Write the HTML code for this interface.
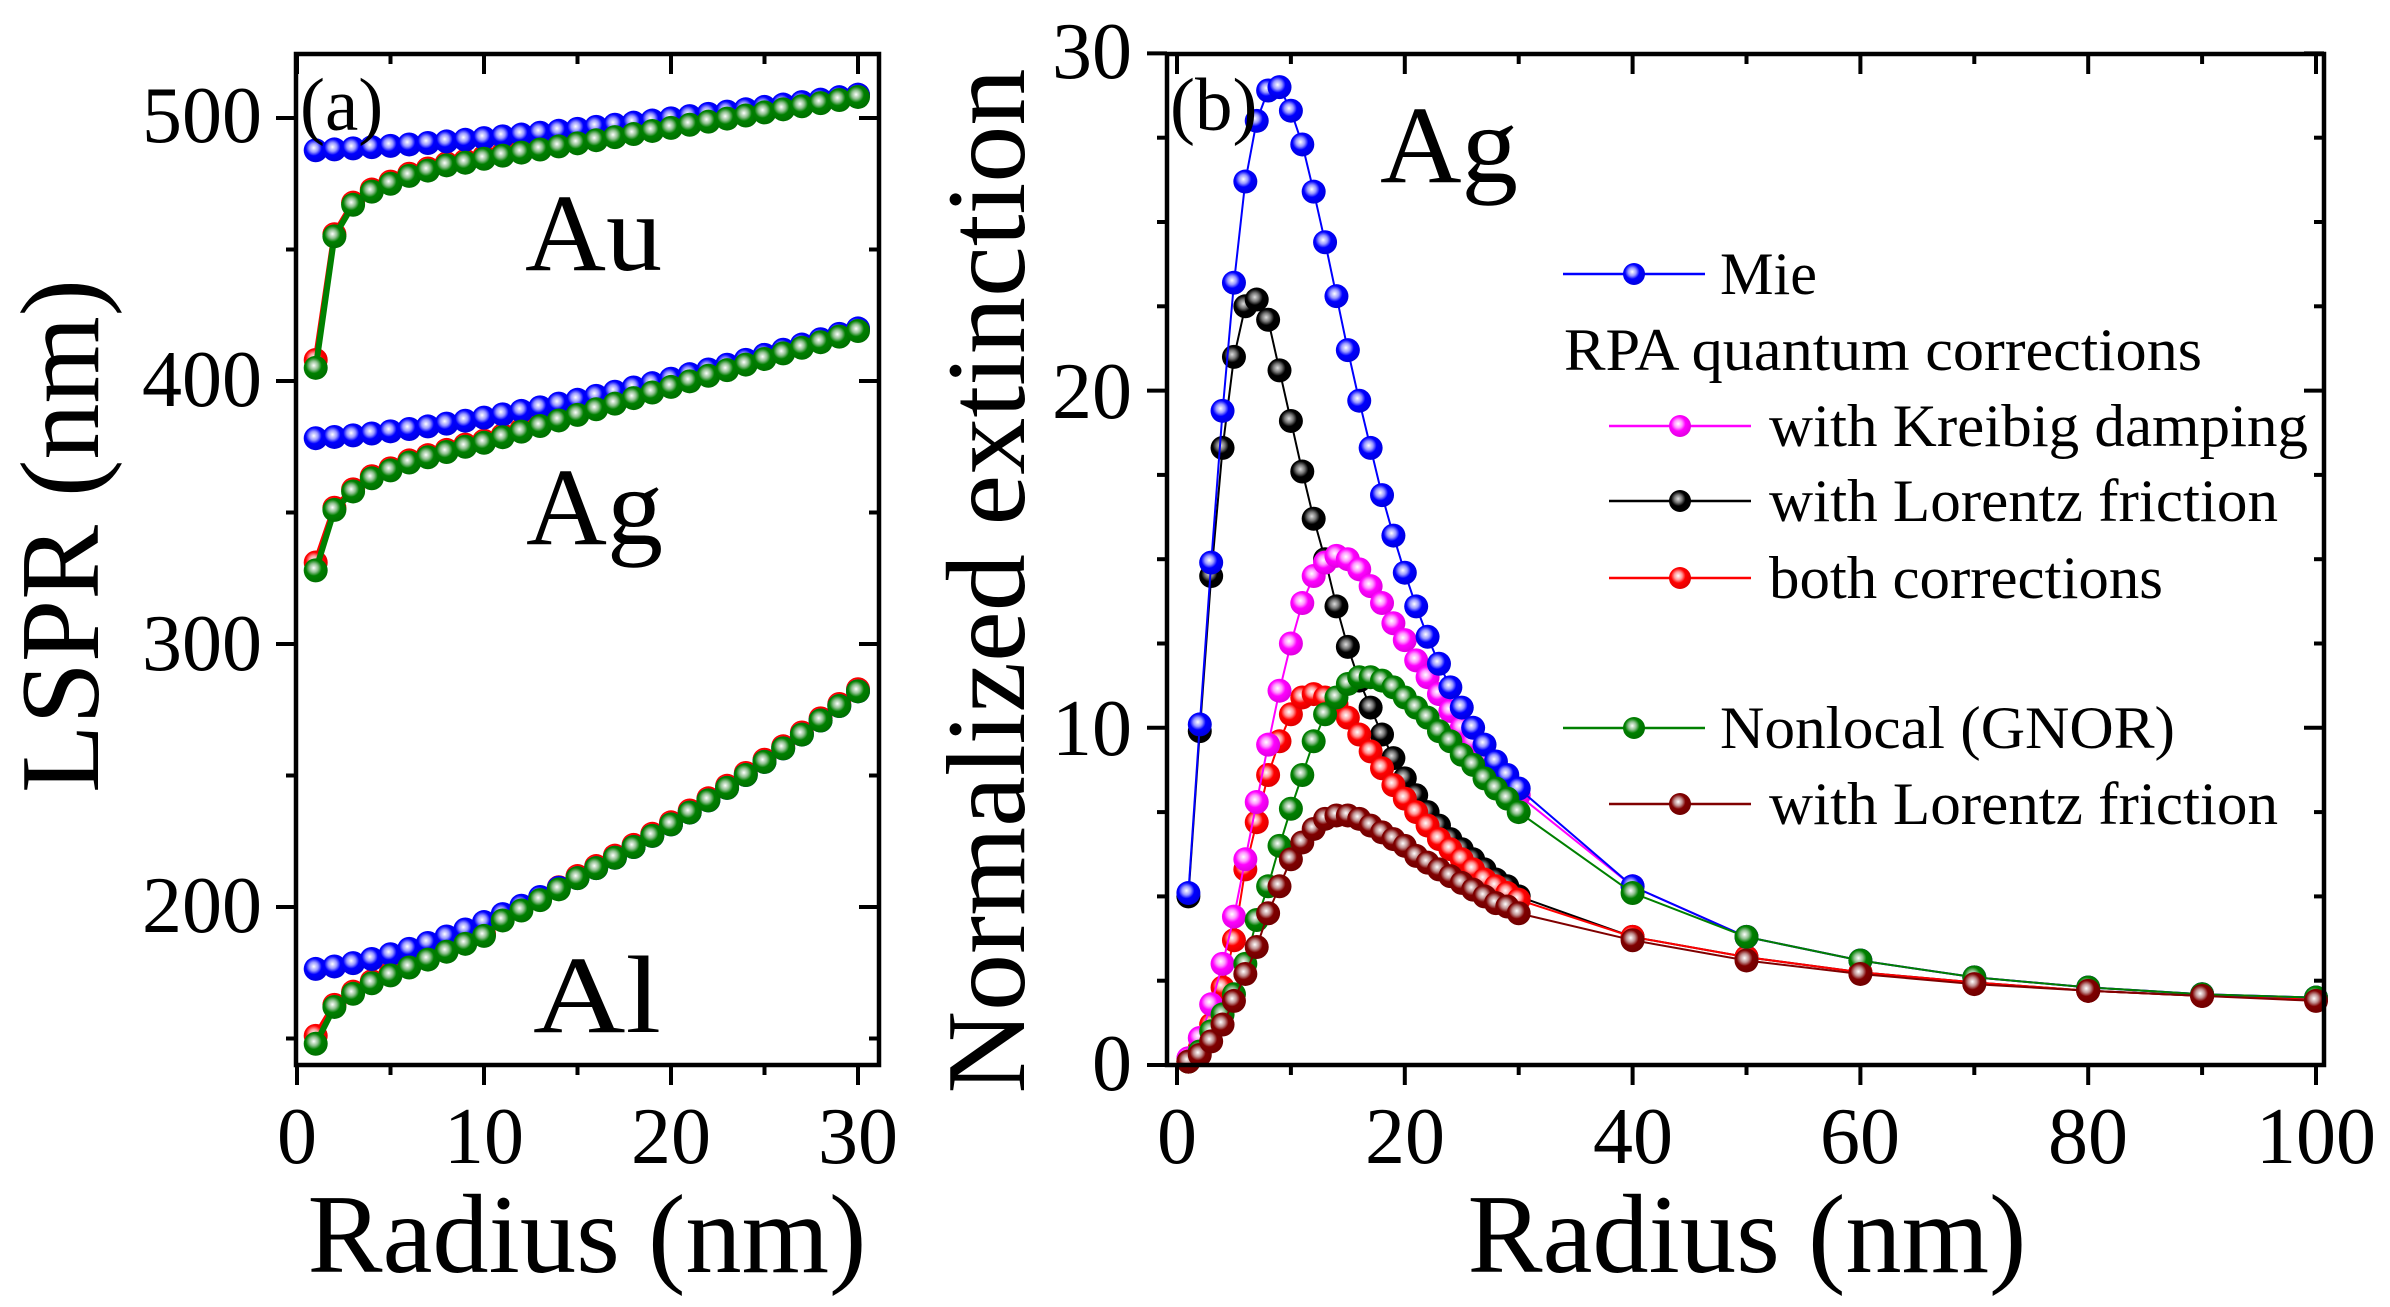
<!DOCTYPE html>
<html><head><meta charset="utf-8"><style>
html,body{margin:0;padding:0;background:#fff;}
svg{display:block;}
text{font-family:"Liberation Serif",serif;fill:#000;}
</style></head><body>
<svg id="s" xmlns="http://www.w3.org/2000/svg" width="2390" height="1307" viewBox="0 0 2390 1307">
<defs>
<radialGradient id="g_blue" cx="0.42" cy="0.4" r="0.6"><stop offset="0" stop-color="#fff"/><stop offset="0.3" stop-color="#9999ff"/><stop offset="0.55" stop-color="#0000ff"/><stop offset="1" stop-color="#0000e0"/></radialGradient>
<radialGradient id="g_green" cx="0.42" cy="0.4" r="0.6"><stop offset="0" stop-color="#fff"/><stop offset="0.3" stop-color="#8fc08f"/><stop offset="0.55" stop-color="#008000"/><stop offset="1" stop-color="#007000"/></radialGradient>
<radialGradient id="g_red" cx="0.42" cy="0.4" r="0.6"><stop offset="0" stop-color="#fff"/><stop offset="0.3" stop-color="#ff9999"/><stop offset="0.55" stop-color="#ff0000"/><stop offset="1" stop-color="#e00000"/></radialGradient>
<radialGradient id="g_mag" cx="0.42" cy="0.4" r="0.6"><stop offset="0" stop-color="#fff"/><stop offset="0.3" stop-color="#ff99ff"/><stop offset="0.55" stop-color="#ff00ff"/><stop offset="1" stop-color="#e000e0"/></radialGradient>
<radialGradient id="g_black" cx="0.42" cy="0.4" r="0.6"><stop offset="0" stop-color="#ddd"/><stop offset="0.3" stop-color="#777"/><stop offset="0.55" stop-color="#000"/><stop offset="1" stop-color="#000"/></radialGradient>
<radialGradient id="g_brown" cx="0.42" cy="0.4" r="0.6"><stop offset="0" stop-color="#fff"/><stop offset="0.3" stop-color="#c09090"/><stop offset="0.55" stop-color="#800000"/><stop offset="1" stop-color="#700000"/></radialGradient>
</defs>
<g id="content"></g>
<text x="262" y="142" font-size="80" text-anchor="end">500</text>
<text x="262" y="406" font-size="80" text-anchor="end">400</text>
<text x="262" y="670" font-size="80" text-anchor="end">300</text>
<text x="262" y="932" font-size="80" text-anchor="end">200</text>
<text x="297" y="1163" font-size="80" text-anchor="middle">0</text>
<text x="484" y="1163" font-size="80" text-anchor="middle">10</text>
<text x="671" y="1163" font-size="80" text-anchor="middle">20</text>
<text x="858" y="1163" font-size="80" text-anchor="middle">30</text>
<text x="587" y="1272" font-size="112" text-anchor="middle" textLength="559" lengthAdjust="spacingAndGlyphs">Radius (nm)</text>
<text transform="translate(98,536) rotate(-90)" font-size="112" text-anchor="middle" textLength="514" lengthAdjust="spacingAndGlyphs">LSPR (nm)</text>
<text x="300" y="130" font-size="75">(a)</text>
<text x="525" y="270" font-size="110" textLength="137" lengthAdjust="spacingAndGlyphs">Au</text>
<text x="526" y="544" font-size="110" textLength="137" lengthAdjust="spacingAndGlyphs">Ag</text>
<text x="533" y="1032" font-size="110" textLength="128" lengthAdjust="spacingAndGlyphs">Al</text>
<text x="1132" y="78" font-size="80" text-anchor="end">30</text>
<text x="1132" y="418" font-size="80" text-anchor="end">20</text>
<text x="1132" y="755" font-size="80" text-anchor="end">10</text>
<text x="1132" y="1090" font-size="80" text-anchor="end">0</text>
<text x="1177" y="1163" font-size="80" text-anchor="middle">0</text>
<text x="1405" y="1163" font-size="80" text-anchor="middle">20</text>
<text x="1633" y="1163" font-size="80" text-anchor="middle">40</text>
<text x="1860" y="1163" font-size="80" text-anchor="middle">60</text>
<text x="2088" y="1163" font-size="80" text-anchor="middle">80</text>
<text x="2316" y="1163" font-size="80" text-anchor="middle">100</text>
<text x="1747" y="1272" font-size="112" text-anchor="middle" textLength="559" lengthAdjust="spacingAndGlyphs">Radius (nm)</text>
<text transform="translate(1024,581) rotate(-90)" font-size="112" text-anchor="middle" textLength="1025" lengthAdjust="spacingAndGlyphs">Normalized extinction</text>
<text x="1170" y="130" font-size="75">(b)</text>
<text x="1380" y="182" font-size="110" textLength="138" lengthAdjust="spacingAndGlyphs">Ag</text>
<g id="legend"></g>
</svg>
<script>
(function(){
var NS="http://www.w3.org/2000/svg";
var C=document.getElementById("content");
function el(t,a,p){var e=document.createElementNS(NS,t);for(var k in a)e.setAttribute(k,a[k]);(p||C).appendChild(e);return e;}
var cols={blue:"#0000ff",green:"#008000",red:"#ff0000",mag:"#ff00ff",black:"#000000",brown:"#800000"};
function series(pts,col,lw,r){
  var d=pts.map(function(p,i){return (i?"L":"M")+p[0].toFixed(1)+" "+p[1].toFixed(1);}).join(" ");
  el("path",{d:d,fill:"none",stroke:cols[col],"stroke-width":lw});
  pts.forEach(function(p){el("circle",{cx:p[0],cy:p[1],r:r,fill:"url(#g_"+col+")"});});
}
var ax0=297,axs=18.7,ay500=118,ays=2.63;
function A(x,v){return [ax0+x*axs, ay500+(500-v)*ays];}
function mk(f){var o=[];for(var r=1;r<=30;r++)o.push(A(r,f(r)));return o;}
var auB=function(r){return 487.5+0.75*Math.pow(r,1.35)/Math.pow(30,0.35)*0.95;};
var auG=function(r){var g=[405,455,467,472,475,478,480,482,483,484.5];if(r<=10)return g[r-1];return 484.5+(508-484.5)*(r-10)/20;};
var agB=function(r){return 378+42*Math.pow(r/30,1.5);};
var agG=function(r){var g=[328,351,358,363,366,369,371,373,375,376.5];if(r<=10)return g[r-1];var b=agB(r);return Math.min(b-0.5,376.5+(419-376.5)*(r-10)/20);};
var alB=function(r){return 174+106*Math.pow(r/30,1.6)+2;};
var alG=function(r){var g=[148,162,167,171,174,177,180,183,186,189];var b=alB(r);if(r<=10)return Math.min(g[r-1],b);return b-Math.max(0,3*(15-r)/5);};
[[auB,auG],[agB,agG],[alB,alG]].forEach(function(s){
  var red=mk(function(r){return s[1](r)+(r==1?3:0.8);});
  series(red,"red",6,12);
  series(mk(s[0]),"blue",6,12);
  series(mk(s[1]),"green",6,12);
});
var bx0=1177,bxs=11.39,by0=1065,bys=33.72;
function B(x,v){return [bx0+x*bxs, by0-v*bys];}
var R=[];for(var i=1;i<=30;i++)R.push(i);R=R.concat([40,50,60,70,80,90,100]);
function mkb(v){return v.map(function(y,i){return B(R[i],y);});}
var tail1=[5.3,3.8,3.1,2.6,2.3,2.1,2.0];
var tail2=[3.8,3.2,2.75,2.45,2.2,2.05,1.95];
var mie=[5.1,10.1,14.9,19.4,23.2,26.2,28.0,28.9,29.0,28.3,27.3,25.9,24.4,22.8,21.2,19.7,18.3,16.9,15.7,14.6,13.6,12.7,11.9,11.2,10.6,10.0,9.5,9.0,8.6,8.2].concat(tail1);
var mag=[0.2,0.8,1.8,3.0,4.4,6.1,7.8,9.5,11.1,12.5,13.7,14.5,14.9,15.1,15.0,14.7,14.2,13.7,13.1,12.6,12.0,11.5,11.0,10.5,10.0,9.6,9.2,8.8,8.4,8.0].concat(tail1);
var blk=[5.0,9.9,14.5,18.3,21.0,22.5,22.7,22.1,20.6,19.1,17.6,16.2,15.0,13.6,12.4,11.4,10.6,9.8,9.1,8.5,8.0,7.5,7.1,6.7,6.4,6.1,5.8,5.5,5.3,5.0].concat(tail2);
var red=[0.1,0.5,1.2,2.3,3.7,5.8,7.2,8.6,9.6,10.4,10.9,11.0,10.9,10.7,10.3,9.8,9.3,8.8,8.3,7.9,7.5,7.1,6.7,6.4,6.1,5.8,5.5,5.3,5.1,4.9].concat(tail2);
var grn=[0.1,0.4,1.0,1.5,2.1,3.0,4.3,5.3,6.5,7.6,8.6,9.6,10.4,10.9,11.3,11.5,11.5,11.4,11.2,10.9,10.6,10.3,9.9,9.6,9.2,8.9,8.5,8.2,7.9,7.5,5.1,3.8,3.1,2.6,2.3,2.1,2.0];
var brn=[0.1,0.3,0.7,1.2,1.9,2.7,3.5,4.5,5.3,6.1,6.6,7.0,7.3,7.4,7.4,7.3,7.1,6.9,6.7,6.5,6.2,6.0,5.8,5.6,5.4,5.2,5.0,4.8,4.7,4.5,3.7,3.1,2.7,2.4,2.2,2.05,1.9];
series(mkb(blk),"black",2,12);
series(mkb(red),"red",2,12);
series(mkb(mag),"mag",2,12);
series(mkb(mie),"blue",2,12);
series(mkb(grn),"green",2,12);
series(mkb(brn),"brown",2,12);
function frame(l,t,r,b){el("rect",{x:l,y:t,width:r-l,height:b-t,fill:"none",stroke:"#000","stroke-width":4.5});}
function tk(x1,y1,x2,y2){el("line",{x1:x1,y1:y1,x2:x2,y2:y2,stroke:"#000","stroke-width":4});}
frame(296,54,879,1065);
for(var v=150;v<=525;v+=50){var y=ay500+(500-v)*ays;if(y<56||y>1063)continue;var M=(v%100==0);tk(296,y,296-(M?20:10),y);tk(879,y,879-(M?20:10),y);}
for(var x=0;x<=31;x+=5){var px=ax0+x*axs;var M=(x%10==0);tk(px,1065,px,1065+(M?20:10));tk(px,54,px,54+(M?20:10));}
frame(1167,54,2324,1065);
for(var v=0;v<=30;v+=2.5){var y=by0-v*bys;var M=(v%10==0);tk(1167,y,1167-(M?20:10),y);tk(2324,y,2324-(M?20:10),y);}
for(var x=0;x<=100;x+=10){var px=bx0+x*bxs;var M=(x%20==0);tk(px,1065,px,1065+(M?20:10));tk(px,54,px,54+(M?20:10));}
var L=document.getElementById("legend");
function leg(x1,x2,y,col,label,tx,tw){
  el("line",{x1:x1,y1:y,x2:x2,y2:y,stroke:cols[col],"stroke-width":2.5},L);
  el("circle",{cx:(x1+x2)/2,cy:y,r:11,fill:"url(#g_"+col+")"},L);
  var t=el("text",{x:tx,y:y+20,"font-size":60,textLength:tw,lengthAdjust:"spacingAndGlyphs"},L);t.textContent=label;
}
leg(1563,1705,274,"blue","Mie",1720,97);
var t=el("text",{x:1564,y:370,"font-size":60,textLength:638,lengthAdjust:"spacingAndGlyphs"},L);t.textContent="RPA quantum corrections";
leg(1609,1751,426,"mag","with Kreibig damping",1769,539);
leg(1609,1751,501,"black","with Lorentz friction",1769,509);
leg(1609,1751,578,"red","both corrections",1769,394);
leg(1563,1705,728,"green","Nonlocal (GNOR)",1720,455);
leg(1609,1751,804,"brown","with Lorentz friction",1769,509);
})();
</script>
</body></html>
